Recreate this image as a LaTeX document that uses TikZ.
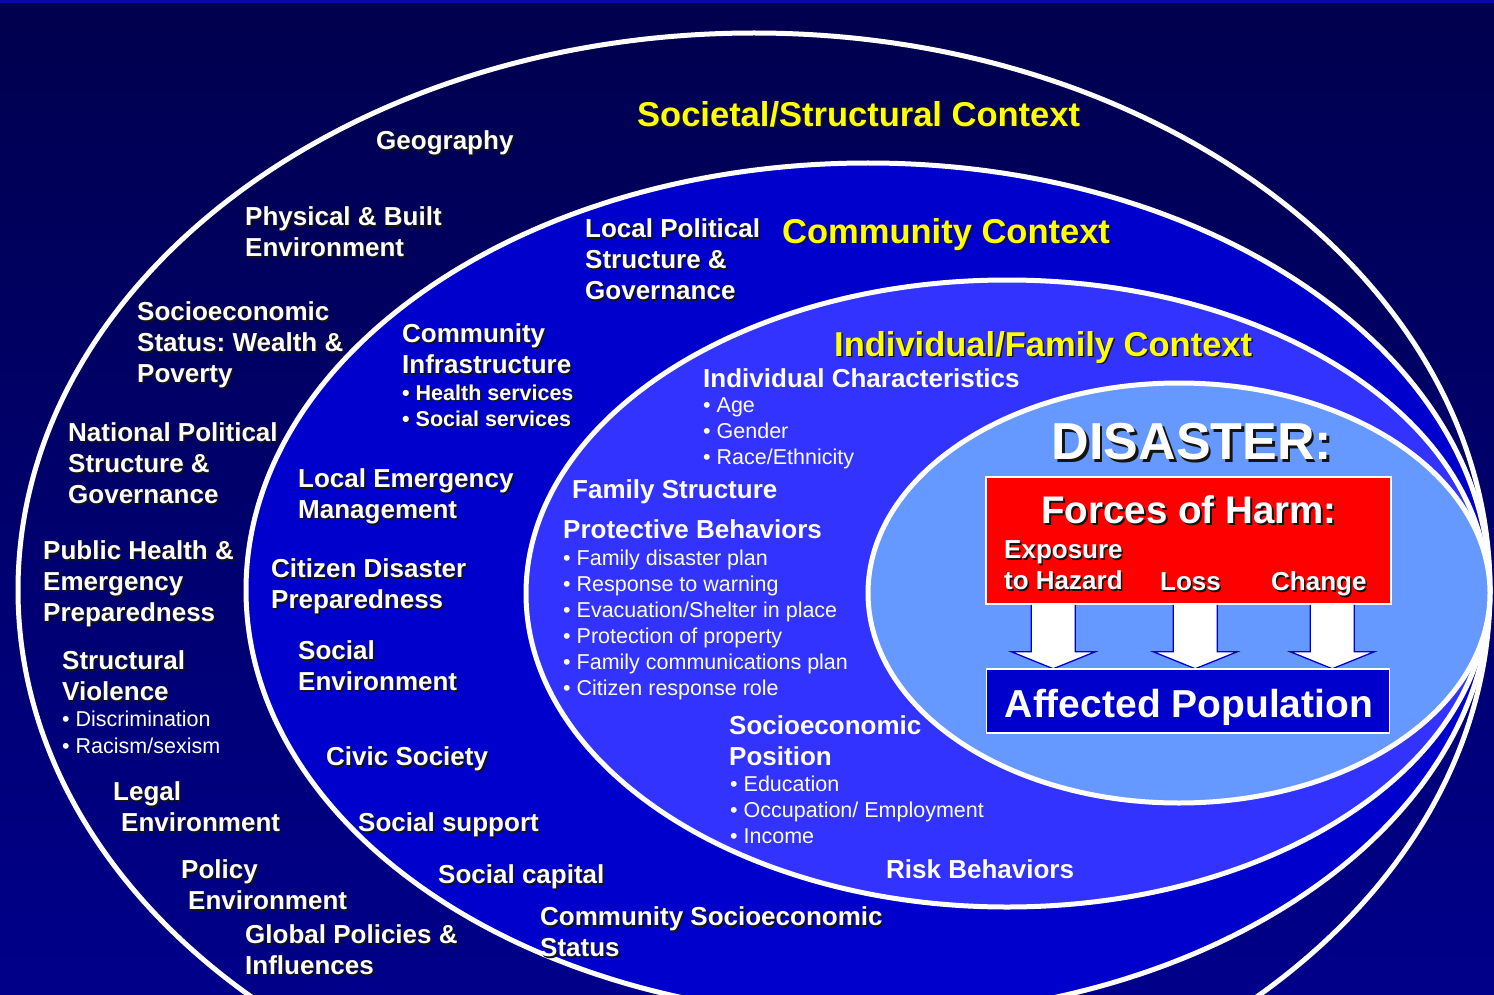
\documentclass[tikz,border=0pt]{standalone}
\usepackage{fontspec}
\setmainfont{Liberation Sans}
\usetikzlibrary{calc}
\definecolor{bgtop}{HTML}{00004E}
\definecolor{bgmid}{HTML}{00009E}
\definecolor{bgbot}{HTML}{00008A}
\definecolor{stripblue}{HTML}{0A0A9E}
\definecolor{commblue}{HTML}{0000CC}
\definecolor{indblue}{HTML}{3333FF}
\definecolor{disblue}{HTML}{6699FF}
\definecolor{harmred}{HTML}{FF0000}
\definecolor{titleyellow}{HTML}{FFFF00}
\definecolor{txtshadow}{HTML}{141414}
\newcommand\sh[2][1.5pt]{\leavevmode\rlap{\kern#1\raisebox{-#1}{\textcolor{txtshadow}{#2}}}#2}
\frenchspacing
\begin{document}
\frenchspacing
\begin{tikzpicture}[x=1pt,y=-1pt,
  ring/.style={draw=white, line width=5pt},
  lab/.style={font=\fontsize{26}{31}\selectfont\bfseries\frenchspacing, text=white, align=left, anchor=north west, inner sep=0pt, yshift=9.4pt, execute at begin node=\strut},
  labone/.style={lab, yshift=2.7pt},
  blt/.style={font=\fontsize{21.5}{26}\selectfont, text=white, align=left, anchor=north west, inner sep=0pt, yshift=7.3pt, execute at begin node=\strut},
  bltb/.style={blt, font=\fontsize{21.5}{26}\selectfont\bfseries},
  ttl/.style={font=\fontsize{34.5}{41}\selectfont\bfseries, text=titleyellow, anchor=base west, inner sep=0pt, yshift=-11.4pt},
  boxbase/.style={draw=white, line width=1.5pt, inner sep=0pt, rectangle},
  barrow/.pic={\filldraw[fill=white, draw=commblue, line width=1.3pt, line join=miter]
     (-22,0) -- (-22,47) -- (-42,47) -- (0,64) -- (42,47) -- (22,47) -- (22,0);}
]
\useasboundingbox (0,0) rectangle (1494,995);
\begin{scope}
\clip (0,0) rectangle (1494,995);
\shade[top color=bgtop, middle color=bgmid, bottom color=bgbot] (0,0) rectangle (1494,995);
\fill[stripblue] (0,0) rectangle (1494,3.5);
% context ellipses
\draw[ring] (754,590) ellipse [x radius=736pt, y radius=557pt];
\draw[ring, fill=commblue] (868,590) ellipse [x radius=622pt, y radius=427pt];
\draw[ring, fill=indblue] (1007,593.5) ellipse [x radius=481pt, y radius=313.5pt];
\draw[ring, fill=disblue] (1179,593) ellipse [x radius=311pt, y radius=210pt];
\end{scope}

% titles
\node[ttl] (tsoc) at (637,115) {\sh{Societal/Structural Context}};
\node[ttl] (tcom) at (782,232) {\sh{Community Context}};
\node[ttl] (tind) at (834,345) {\sh{Individual/Family Context}};

% societal ring
\node[labone] (geo) at (376,140) {\sh{Geography}};
\node[lab] (phys) at (245,216) {\sh{Physical \& Built}\\\sh{Environment}};
\node[lab] (ses) at (137,311) {\sh{Socioeconomic}\\\sh{Status: Wealth \&}\\\sh{Poverty}};
\node[lab] (natpol) at (68,432) {\sh{National Political}\\\sh{Structure \&}\\\sh{Governance}};
\node[lab] (pubh) at (43,550) {\sh{Public Health \&}\\\sh{Emergency}\\\sh{Preparedness}};
\node[lab] (strv) at (62,660) {\sh{Structural}\\\sh{Violence}};
\node[blt, font=\fontsize{21.5}{27}\selectfont] (strvb) at (62,718) {• Discrimination\\• Racism/sexism};
\node[lab] (legal) at (113,791) {\sh{Legal}\\\hspace*{8pt}\sh{Environment}};
\node[lab] (policy) at (181,869) {\sh{Policy}\\\hspace*{7pt}\sh{Environment}};
\node[lab] (global) at (245,934) {\sh{Global Policies \&}\\\sh{Influences}};

% community ring
\node[lab] (locpol) at (585,228) {\sh{Local Political}\\\sh{Structure \&}\\\sh{Governance}};
\node[lab] (cinf) at (402,333) {\sh{Community}\\\sh{Infrastructure}};
\node[bltb] (cinfb) at (402,392) {\sh{• Health services}\\\sh{• Social services}};
\node[lab] (lem) at (298,478) {\sh{Local Emergency}\\\sh{Management}};
\node[lab] (cdp) at (271,568) {\sh{Citizen Disaster}\\\sh{Preparedness}};
\node[lab] (senv) at (298,650) {\sh{Social}\\\sh{Environment}};
\node[labone] (civic) at (326,756) {\sh{Civic Society}};
\node[labone] (ssup) at (358,822) {\sh{Social support}};
\node[labone] (scap) at (438,874) {\sh{Social capital}};
\node[lab] (cses) at (540,916) {\sh{Community Socioeconomic}\\\sh{Status}};

% individual ring
\node[labone] (indc) at (703,378) {Individual Characteristics};
\node[blt] (indcb) at (703,405) {• Age\\• Gender\\• Race/Ethnicity};
\node[labone] (fams) at (572,489) {Family Structure};
\node[labone] (prot) at (563,529) {Protective Behaviors};
\node[blt] (protb) at (563,557) {• Family disaster plan\\• Response to warning\\• Evacuation/Shelter in place\\• Protection of property\\• Family communications plan\\• Citizen response role};
\node[lab] (sesp) at (729,725) {Socioeconomic\\Position};
\node[blt] (sespb) at (730,783) {• Education\\• Occupation/ Employment\\• Income};
\node[labone] (risk) at (886,869) {Risk Behaviors};

% disaster core
\node[font=\fontsize{52}{60}\selectfont\bfseries, text=white, inner sep=0pt] (dis) at (1192,443) {\sh[2.5pt]{DISASTER:}};
\node[boxbase, fill=harmred, minimum width=405pt, minimum height=127pt] (harm) at (1188.5,540.5) {};
\node[font=\fontsize{38.5}{44}\selectfont\bfseries, text=white, inner sep=0pt] (harmt) at (1189,511) {\sh[2pt]{Forces of Harm:}};
\node[lab] (expo) at (1004,550) {\sh{Exposure}\\\sh{to Hazard}};
\node[labone] (loss) at (1160,581) {\sh{Loss}};
\node[labone] (chg) at (1271,581) {\sh{Change}};
\pic at ($(harm.south west)+(68,0)$) {barrow};
\pic at ($(harm.south west)+(210,0)$) {barrow};
\pic at ($(harm.south west)+(347,0)$) {barrow};
\node[boxbase, fill=commblue, minimum width=403pt, minimum height=64pt] (aff) at (1188,701) {};
\node[font=\fontsize{39}{45}\selectfont\bfseries, text=white, inner sep=0pt, anchor=base] (afft) at (1189,717) {Affected Population};
\end{tikzpicture}
\end{document}
